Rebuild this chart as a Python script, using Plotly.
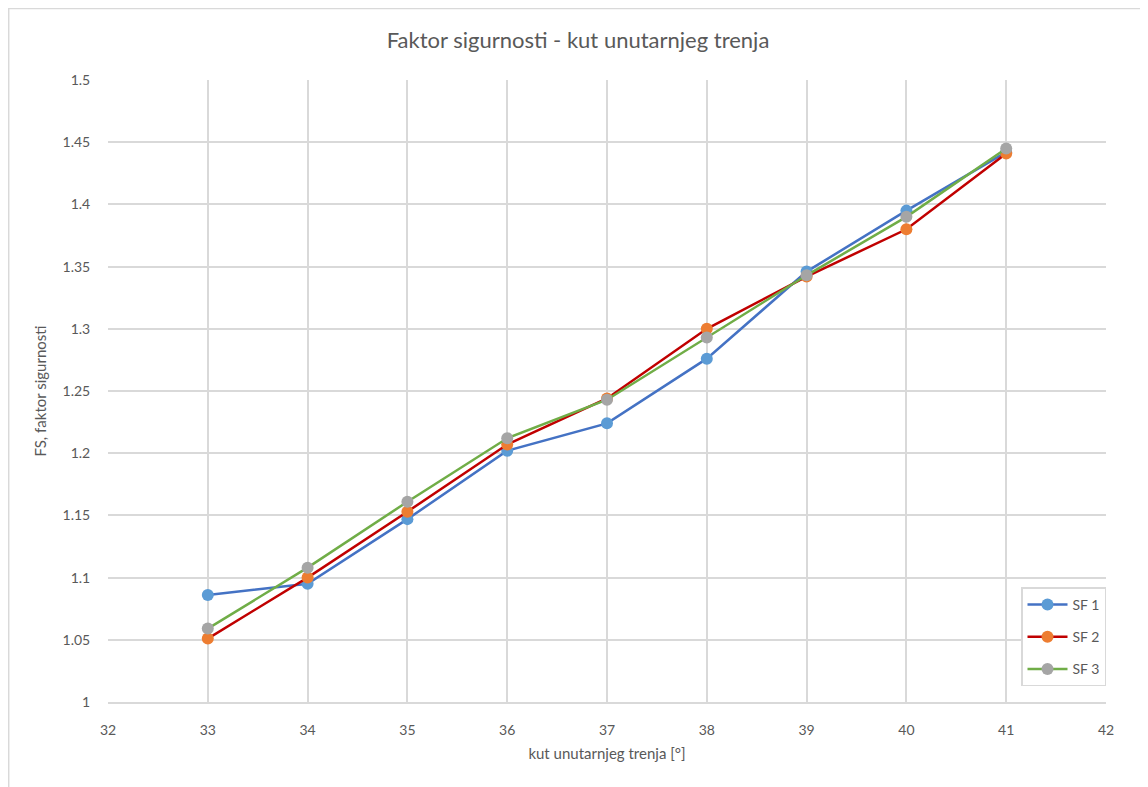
import plotly.graph_objects as go

kut = [33, 34, 35, 36, 37, 38, 39, 40, 41]
sf1 = [1.086, 1.095, 1.147, 1.202, 1.224, 1.276, 1.346, 1.395, 1.442]
sf2 = [1.051, 1.100, 1.153, 1.207, 1.244, 1.300, 1.342, 1.380, 1.441]
sf3 = [1.059, 1.108, 1.161, 1.212, 1.243, 1.293, 1.343, 1.390, 1.445]

series = [
    ("SF 1", sf1, "#4472C4", "#5B9BD5"),
    ("SF 2", sf2, "#C00000", "#ED7D31"),
    ("SF 3", sf3, "#70AD47", "#A5A5A5"),
]

FONT = "Lato"
GREY = "#595959"
GRID = "#D9D9D9"

fig = go.Figure()
for name, vals, line_col, mark_col in series:
    fig.add_trace(go.Scatter(
        x=kut, y=vals, name=name, mode="lines+markers", legendgroup=name,
        line=dict(color=line_col, width=2.5),
        marker=dict(color=mark_col, size=12),
    ))

# page body has an 8px margin, so the figure starts at (8, 8)
fig.update_layout(
    width=1140, height=779,
    paper_bgcolor="white", plot_bgcolor="white",
    margin=dict(l=100, r=42, t=72, b=85),
    font=dict(family=FONT, color=GREY, size=14),
    title=dict(text="Faktor sigurnosti - kut unutarnjeg trenja", x=0.5, xanchor="center",
               y=0.959, yanchor="middle", font=dict(size=22, color=GREY)),
    xaxis=dict(range=[32, 42], dtick=1, showgrid=True, gridcolor=GRID, gridwidth=1.5,
               zeroline=False, showline=True, linecolor=GRID, linewidth=1.5,
               ticks="outside", ticklen=14, tickcolor="rgba(0,0,0,0)", tickfont=dict(size=14),
               title=dict(text="kut unutarnjeg trenja [°]", font=dict(size=15), standoff=12)),
    yaxis=dict(range=[1, 1.5], dtick=0.05, showgrid=True, gridcolor=GRID, gridwidth=1.5,
               zeroline=False, showline=False,
               ticks="outside", ticklen=14, tickcolor="rgba(0,0,0,0)", tickfont=dict(size=14),
               tickformat="~g",
               title=dict(text="FS, faktor sigurnosti", font=dict(size=15), standoff=12)),
    legend=dict(x=1.0, y=0.025, xanchor="right", yanchor="bottom",
                bgcolor="white", bordercolor=GRID, borderwidth=1.5,
                font=dict(size=14), itemwidth=40, tracegroupgap=11),
    shapes=[dict(type="rect", xref="paper", yref="paper",
                 x0=-0.0995, y0=-0.3, x1=1.2, y1=1.115,
                 line=dict(color=GRID, width=1.5))],
)

fig.write_html("out.html")
